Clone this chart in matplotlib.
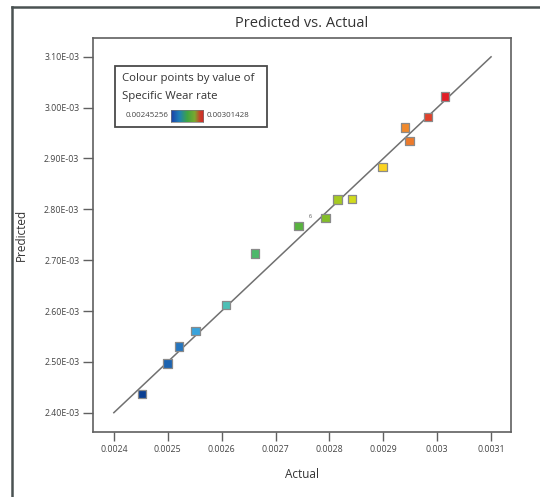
import numpy as np
import matplotlib
matplotlib.use("Agg")
import matplotlib.pyplot as plt
from matplotlib.colors import LinearSegmentedColormap, Normalize
from matplotlib.patches import Rectangle
from matplotlib.lines import Line2D
from matplotlib.ticker import FuncFormatter

plt.rcParams['font.family'] = ['Open Sans', 'DejaVu Sans']

# Specific wear rate: actual vs. model-predicted values
actual = [0.00245256, 0.002500, 0.002521, 0.002552, 0.002608, 0.002662,
          0.002743, 0.002793, 0.002815, 0.002842, 0.002899, 0.002940,
          0.002949, 0.002983, 0.00301428]
predicted = [0.002437, 0.002497, 0.002530, 0.002561, 0.002612, 0.002713,
             0.002767, 0.002783, 0.002819, 0.002820, 0.002883, 0.002961,
             0.002934, 0.002982, 0.003022]
run_label = "6"
run_label_index = 7

color_min = 0.00245256
color_max = 0.00301428

x_ticks = [0.0024, 0.0025, 0.0026, 0.0027, 0.0028, 0.0029, 0.003, 0.0031]
y_ticks = [0.0024, 0.0025, 0.0026, 0.0027, 0.0028, 0.0029, 0.0030, 0.0031]

cmap = LinearSegmentedColormap.from_list("wear", [
    (0.00, '#0b3f92'), (0.12, '#2474bd'), (0.18, '#39a6de'),
    (0.28, '#4ec1b4'), (0.37, '#4db86c'), (0.55, '#5bb234'),
    (0.62, '#8cc025'), (0.69, '#cfdb1c'), (0.80, '#fdd321'),
    (0.87, '#f08a2b'), (0.95, '#e03c2b'), (1.00, '#e21d26')])
# softer gradient used for the legend swatch
legend_cmap = LinearSegmentedColormap.from_list("wear_key", [
    (0.00, '#1c3fa8'), (0.25, '#1f7fb8'), (0.50, '#3fa540'),
    (0.72, '#7aa930'), (0.88, '#c8402a'), (1.00, '#d42626')])
norm = Normalize(color_min, color_max)

fig = plt.figure(figsize=(5.4, 4.97), dpi=100)
ax = fig.add_axes([0.1713, 0.1308, 0.7750, 0.7927])

# outer frame
frame_col = '#4a5252'
fig.add_artist(Line2D([0.023, 1.0], [0.985, 0.985], transform=fig.transFigure,
                      color=frame_col, lw=1.8))
fig.add_artist(Line2D([0.023, 0.023], [0.0, 0.985], transform=fig.transFigure,
                      color=frame_col, lw=1.8))

# y = x reference line
ax.plot([x_ticks[0], x_ticks[-1]], [y_ticks[0], y_ticks[-1]],
        color='#707070', lw=1.1, zorder=2)

ax.scatter(actual, predicted, c=actual, cmap=cmap, norm=norm, marker='s',
           s=38, edgecolors='#8a8a8a', linewidths=0.9, zorder=3)
ax.annotate(run_label, (actual[run_label_index], predicted[run_label_index]),
            xytext=(-11, 1), textcoords='offset points', fontsize=4,
            color='#555555', ha='center', va='center')

ax.set_xlim(0.0023604, 0.003137)
ax.set_ylim(0.002362, 0.003137)
ax.set_xticks(x_ticks)
ax.set_yticks(y_ticks)
ax.xaxis.set_major_formatter(FuncFormatter(lambda v, p: f"{v:g}"))
ax.yaxis.set_major_formatter(FuncFormatter(lambda v, p: f"{v:.2E}"))

spine_col = '#606060'
for s in ax.spines.values():
    s.set_color(spine_col)
    s.set_linewidth(1.2)
ax.tick_params(axis='both', direction='out', color=spine_col, width=1.0,
               labelsize=6.3, labelcolor='#444444')
ax.tick_params(axis='x', length=6.5, pad=3)
ax.tick_params(axis='y', length=7.5, pad=2)

ax.set_title("Predicted vs. Actual", fontsize=10.5, color='#333333', pad=8)
ax.set_xlabel("Actual", fontsize=8.5, color='#333333', labelpad=10)
ax.set_ylabel("Predicted", fontsize=8.5, color='#333333', labelpad=12)

# colour legend box
ax.add_patch(Rectangle((0.0538, 0.774), 0.363, 0.155, transform=ax.transAxes,
                       fill=True, facecolor='white', edgecolor='#4a4a4a',
                       lw=1.3, zorder=5))
ax.text(0.0705, 0.896, "Colour points by value of", transform=ax.transAxes,
        fontsize=8.2, color='#333333', va='center', ha='left', zorder=6)
ax.text(0.0705, 0.851, "Specific Wear rate", transform=ax.transAxes,
        fontsize=8.2, color='#333333', va='center', ha='left', zorder=6)
ax.text(0.181, 0.803, f"{color_min:.8f}".rstrip('0'), transform=ax.transAxes,
        fontsize=5.7, color='#444444', va='center', ha='right', zorder=6)
ax.text(0.273, 0.803, f"{color_max:.8f}".rstrip('0'), transform=ax.transAxes,
        fontsize=5.7, color='#444444', va='center', ha='left', zorder=6)
cax = ax.inset_axes([0.1876, 0.788, 0.0772, 0.030], zorder=6)
cax.imshow(np.linspace(0, 1, 256)[None, :], aspect='auto', cmap=legend_cmap)
cax.set_xticks([])
cax.set_yticks([])
for s in cax.spines.values():
    s.set_color('#777777')
    s.set_linewidth(0.5)

fig.savefig("out.png", dpi=100)
